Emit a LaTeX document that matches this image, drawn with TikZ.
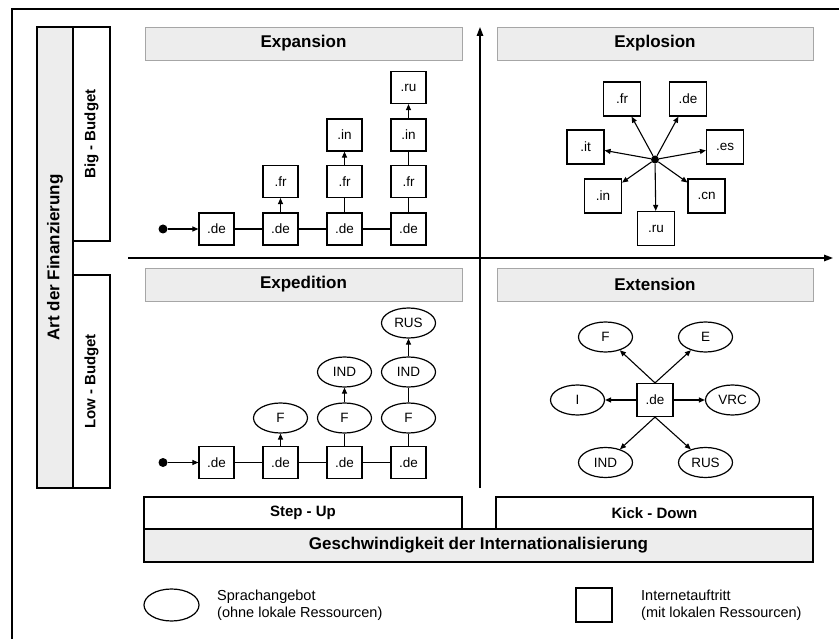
\documentclass[tikz,border=0pt]{standalone}
\usepackage{fontspec}
\setmainfont{Liberation Sans}
\usetikzlibrary{shapes.geometric,arrows.meta}
\begin{document}
\begin{tikzpicture}[x=1pt,y=-1pt,
  box/.style={draw,line width=1.2pt,minimum width=35pt,minimum height=32pt,inner sep=0pt,font=\fontsize{13.5}{15}\selectfont},
  ebox/.style={box,minimum width=37pt,minimum height=34pt},
  ell/.style={draw,ellipse,line width=1.2pt,minimum width=54pt,minimum height=30pt,inner sep=0pt,font=\fontsize{13.5}{15}\selectfont},
  bar/.style={draw=gray!70,fill=gray!14,line width=0.8pt,inner sep=0pt},
  frame/.style={draw,line width=1.2pt,inner sep=0pt},
  head/.style={font=\fontsize{17}{20}\selectfont\bfseries},
  lab/.style={font=\fontsize{15}{18}\selectfont\bfseries},
  legtext/.style={font=\fontsize{14.5}{17}\selectfont,align=left,anchor=west,inner sep=0pt},
  arr/.style={line width=1.1pt,-{Triangle[length=6pt,width=5pt]}},
  ln/.style={line width=1.1pt},
  dot/.style={circle,fill,inner sep=0pt,minimum size=9pt},
  axis/.style={line width=1.5pt,-{Triangle[length=9pt,width=6.5pt]}}
]
\useasboundingbox (0,0) rectangle (839,639);
% outer frame
\coordinate (fbl) at (12,639);
\coordinate (ftl) at (12,9);
\coordinate (ftr) at (839,9);
\draw[line width=1.3pt] (fbl) -- (ftl) -- (ftr);

% left column
\node[frame,fill=gray!14,minimum width=36pt,minimum height=461pt] (art) at (55,257.5) {};
\node[font=\fontsize{17}{20}\selectfont\bfseries,rotate=90] (artt) at (55,257.5) {Art der Finanzierung};
\node[frame,fill=white,minimum width=37pt,minimum height=214pt] (big) at (91.5,134) {};
\node[lab,rotate=90] (bigt) at (91.5,134) {Big - Budget};
\node[frame,fill=white,minimum width=37pt,minimum height=213pt] (low) at (91.5,381.5) {};
\node[lab,rotate=90] (lowt) at (91.5,381.5) {Low - Budget};

% axes
\coordinate (vb) at (480,488);
\coordinate (vt) at (480,27);
\coordinate (hl) at (128,258);
\coordinate (hr) at (833,258);
\draw[axis] (vb) -- (vt);
\draw[axis] (hl) -- (hr);

% headings
\node[bar,head,minimum width=317pt,minimum height=33pt] (hexp) at (303.5,43.5) {Expansion};
\node[bar,head,minimum width=316pt,minimum height=33pt] (hexl) at (655,43.5) {Explosion};
\node[bar,head,minimum width=317pt,minimum height=33pt] (hepd) at (303.5,284.5) {Expedition};
\node[bar,head,minimum width=316pt,minimum height=33pt] (hext) at (655,284.5) {Extension};

% Expansion
\node[dot] (sa) at (163,229) {};
\node[box] (a1) at (216.5,229) {.de};
\node[box] (a2) at (280.5,229) {.de};
\node[box] (a3) at (344.5,229) {.de};
\node[box] (a4) at (408.5,229) {.de};
\node[box] (a2f) at (280.5,181.5) {.fr};
\node[box] (a3f) at (344.5,181.5) {.fr};
\node[box] (a3i) at (344.5,135) {.in};
\node[box] (a4f) at (408.5,181.5) {.fr};
\node[box] (a4i) at (408.5,135) {.in};
\node[box] (a4r) at (408.5,87.5) {.ru};
\draw[arr] (sa) -- (a1);
\draw[ln] (a1) -- (a2) (a2) -- (a3) (a3) -- (a4);
\draw[arr] (a2) -- (a2f);
\draw[ln] (a3) -- (a3f);
\draw[arr] (a3f) -- (a3i);
\draw[ln] (a4) -- (a4f) (a4f) -- (a4i);
\draw[arr] (a4i) -- (a4r);

% Expedition
\node[dot] (sb) at (163,462.5) {};
\node[box] (b1) at (216.5,462.5) {.de};
\node[box] (b2) at (280.5,462.5) {.de};
\node[box] (b3) at (344.5,462.5) {.de};
\node[box] (b4) at (408.5,462.5) {.de};
\node[ell] (b2f) at (280.5,418) {F};
\node[ell] (b3f) at (344.5,418) {F};
\node[ell] (b3i) at (344.5,372) {IND};
\node[ell] (b4f) at (408.5,418) {F};
\node[ell] (b4i) at (408.5,372) {IND};
\node[ell] (b4r) at (408.5,323) {RUS};
\draw[arr] (sb) -- (b1);
\draw[ln] (b1) -- (b2) (b2) -- (b3) (b3) -- (b4);
\draw[arr] (b2) -- (b2f);
\draw[ln] (b3) -- (b3f);
\draw[arr] (b3f) -- (b3i);
\draw[ln] (b4) -- (b4f) (b4f) -- (b4i);
\draw[arr] (b4i) -- (b4r);

% Explosion
\node[dot,minimum size=8pt] (hub) at (655,159.5) {};
\node[ebox] (xfr) at (622,99) {.fr};
\node[ebox] (xde) at (688,99) {.de};
\node[ebox] (xit) at (585.5,147) {.it};
\node[ebox] (xes) at (725,147) {.es};
\node[ebox] (xin) at (603,196) {.in};
\node[ebox] (xcn) at (706.5,196) {.cn};
\node[ebox] (xru) at (656,228.5) {.ru};
\foreach \t in {xfr,xde,xit,xes,xin,xcn,xru} \draw[arr] (hub) -- (\t);

% Extension
\node[box,minimum width=36pt,minimum height=33pt] (ede) at (655,400) {.de};
\node[ell] (eF) at (605.5,337) {F};
\node[ell] (eE) at (705.5,337) {E};
\node[ell] (eI) at (577.5,400) {I};
\node[ell] (eV) at (732.5,400) {VRC};
\node[ell] (eIND) at (605.5,462.5) {IND};
\node[ell] (eRUS) at (705.5,462.5) {RUS};
\draw[arr] (ede.north) -- (eF);
\draw[arr] (ede.north) -- (eE);
\draw[arr] (ede) -- (eI);
\draw[arr] (ede) -- (eV);
\draw[arr] (ede.south) -- (eIND);
\draw[arr] (ede.south) -- (eRUS);

% bottom
\node[frame,lab,minimum width=318pt,minimum height=32pt] (step) at (303,513) {Step - Up};
\node[frame,lab,minimum width=317pt,minimum height=32pt] (kick) at (654.5,513) {Kick - Down};
\node[frame,fill=gray!14,head,minimum width=669pt,minimum height=33pt] (gesch) at (478.5,545.5) {Geschwindigkeit der Internationalisierung};

% legend
\node[draw,ellipse,line width=1.2pt,minimum width=55pt,minimum height=32pt,inner sep=0pt] (lell) at (171.5,605) {};
\node[legtext] (lellt) at (217,605.5) {Sprachangebot\\(ohne lokale Ressourcen)};
\node[draw,line width=1.2pt,minimum width=36pt,minimum height=34pt,inner sep=0pt] (lbox) at (594,605) {};
\node[legtext] (lboxt) at (641,605.5) {Internetauftritt\\(mit lokalen Ressourcen)};
\end{tikzpicture}
\end{document}
